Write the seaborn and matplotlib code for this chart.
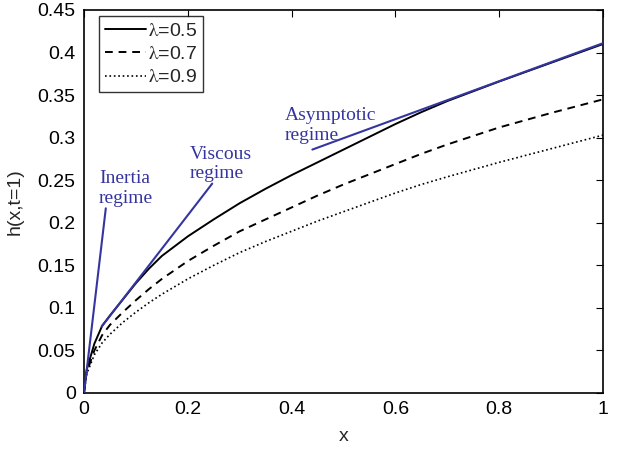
import numpy as np
import pandas as pd
import matplotlib
matplotlib.use('Agg')
import matplotlib.pyplot as plt
import seaborn as sns

# values
x_vals = [0, 0.005, 0.02, 0.035, 0.05, 0.075, 0.1, 0.125, 0.15, 0.2, 0.25, 0.3,
          0.35, 0.4, 0.45, 0.5, 0.55, 0.6, 0.65, 0.7, 0.8, 0.9, 1.0]
h_05 = [0, 0.027, 0.058, 0.079, 0.091, 0.110, 0.129, 0.146, 0.161, 0.184, 0.204, 0.223,
        0.240, 0.256, 0.271, 0.286, 0.301, 0.316, 0.330, 0.343, 0.366, 0.388, 0.410]
h_07 = [0, 0.024, 0.050, 0.068, 0.080, 0.095, 0.109, 0.122, 0.134, 0.155, 0.173, 0.190,
        0.204, 0.218, 0.232, 0.245, 0.257, 0.269, 0.281, 0.292, 0.312, 0.329, 0.345]
h_09 = [0, 0.022, 0.045, 0.059, 0.069, 0.083, 0.095, 0.106, 0.116, 0.134, 0.150, 0.165,
        0.178, 0.190, 0.202, 0.213, 0.224, 0.235, 0.245, 0.254, 0.271, 0.287, 0.303]
series_labels = [r'$\mathrm{\lambda}$=0.5', r'$\mathrm{\lambda}$=0.7', r'$\mathrm{\lambda}$=0.9']

# regime lines (end points)
inertia_x, inertia_y = [0, 0.042], [0, 0.217]
viscous_x, viscous_y = [0.034, 0.247], [0.078, 0.246]
asym_x, asym_y = [0.44, 1.0], [0.286, 0.411]

regime_texts = ['Inertia\nregime', 'Viscous\nregime', 'Asymptotic\nregime']
regime_pos = [(0.029, 0.240), (0.203, 0.269), (0.386, 0.314)]

x_ticks = [0, 0.2, 0.4, 0.6, 0.8, 1]
x_ticklabels = ['0', '0.2', '0.4', '0.6', '0.8', '1']
y_ticks = [0, 0.05, 0.1, 0.15, 0.2, 0.25, 0.3, 0.35, 0.4, 0.45]
y_ticklabels = ['0', '0.05', '0.1', '0.15', '0.2', '0.25', '0.3', '0.35', '0.4', '0.45']

sns.set_style('white')
plt.rcParams['font.family'] = ['Liberation Sans', 'DejaVu Sans']
plt.rcParams['mathtext.fontset'] = 'stix'

blue = '#3535a0'

fig = plt.figure(figsize=(6.2, 4.5), dpi=100)
ax = fig.add_axes([0.1355, 0.1267, 0.8371, 0.8511])

styles = ['-', (0, (4, 3)), ':']
widths = [1.4, 1.4, 1.2]
for h, lab, ls, lw in zip([h_05, h_07, h_09], series_labels, styles, widths):
    df = pd.DataFrame({'x': x_vals, 'h': h})
    sns.lineplot(data=df, x='x', y='h', ax=ax, color='k', linestyle=ls,
                 linewidth=lw, label=lab, estimator=None, sort=False)

for lx, ly in [(inertia_x, inertia_y), (viscous_x, viscous_y), (asym_x, asym_y)]:
    ax.plot(lx, ly, color=blue, linewidth=1.5, zorder=3)

for txt, (tx, ty) in zip(regime_texts, regime_pos):
    ax.text(tx, ty, txt, color=blue, fontsize=14, family='Liberation Serif',
            ha='left', va='center', linespacing=1.2)

ax.set_xlim(0, 1)
ax.set_ylim(0, 0.45)
ax.set_xticks(x_ticks)
ax.set_xticklabels(x_ticklabels)
ax.set_yticks(y_ticks)
ax.set_yticklabels(y_ticklabels)
ax.tick_params(direction='in', top=True, right=True, length=5, width=0.8,
               labelsize=14, pad=6, colors='k')
for sp in ax.spines.values():
    sp.set_color('k')
    sp.set_linewidth(1.2)

ax.set_xlabel('x', fontsize=14, labelpad=7)
ax.set_ylabel('h(x,t=1)', fontsize=14, labelpad=10)

leg = ax.legend(loc='upper left', bbox_to_anchor=(0.029, 0.984), borderaxespad=0,
                fontsize=14, frameon=True, fancybox=False, edgecolor='k',
                handlelength=2.1, handletextpad=0.1, borderpad=0.3,
                labelspacing=0.3)
leg.get_frame().set_linewidth(1.0)

fig.savefig('out.png', dpi=100)
